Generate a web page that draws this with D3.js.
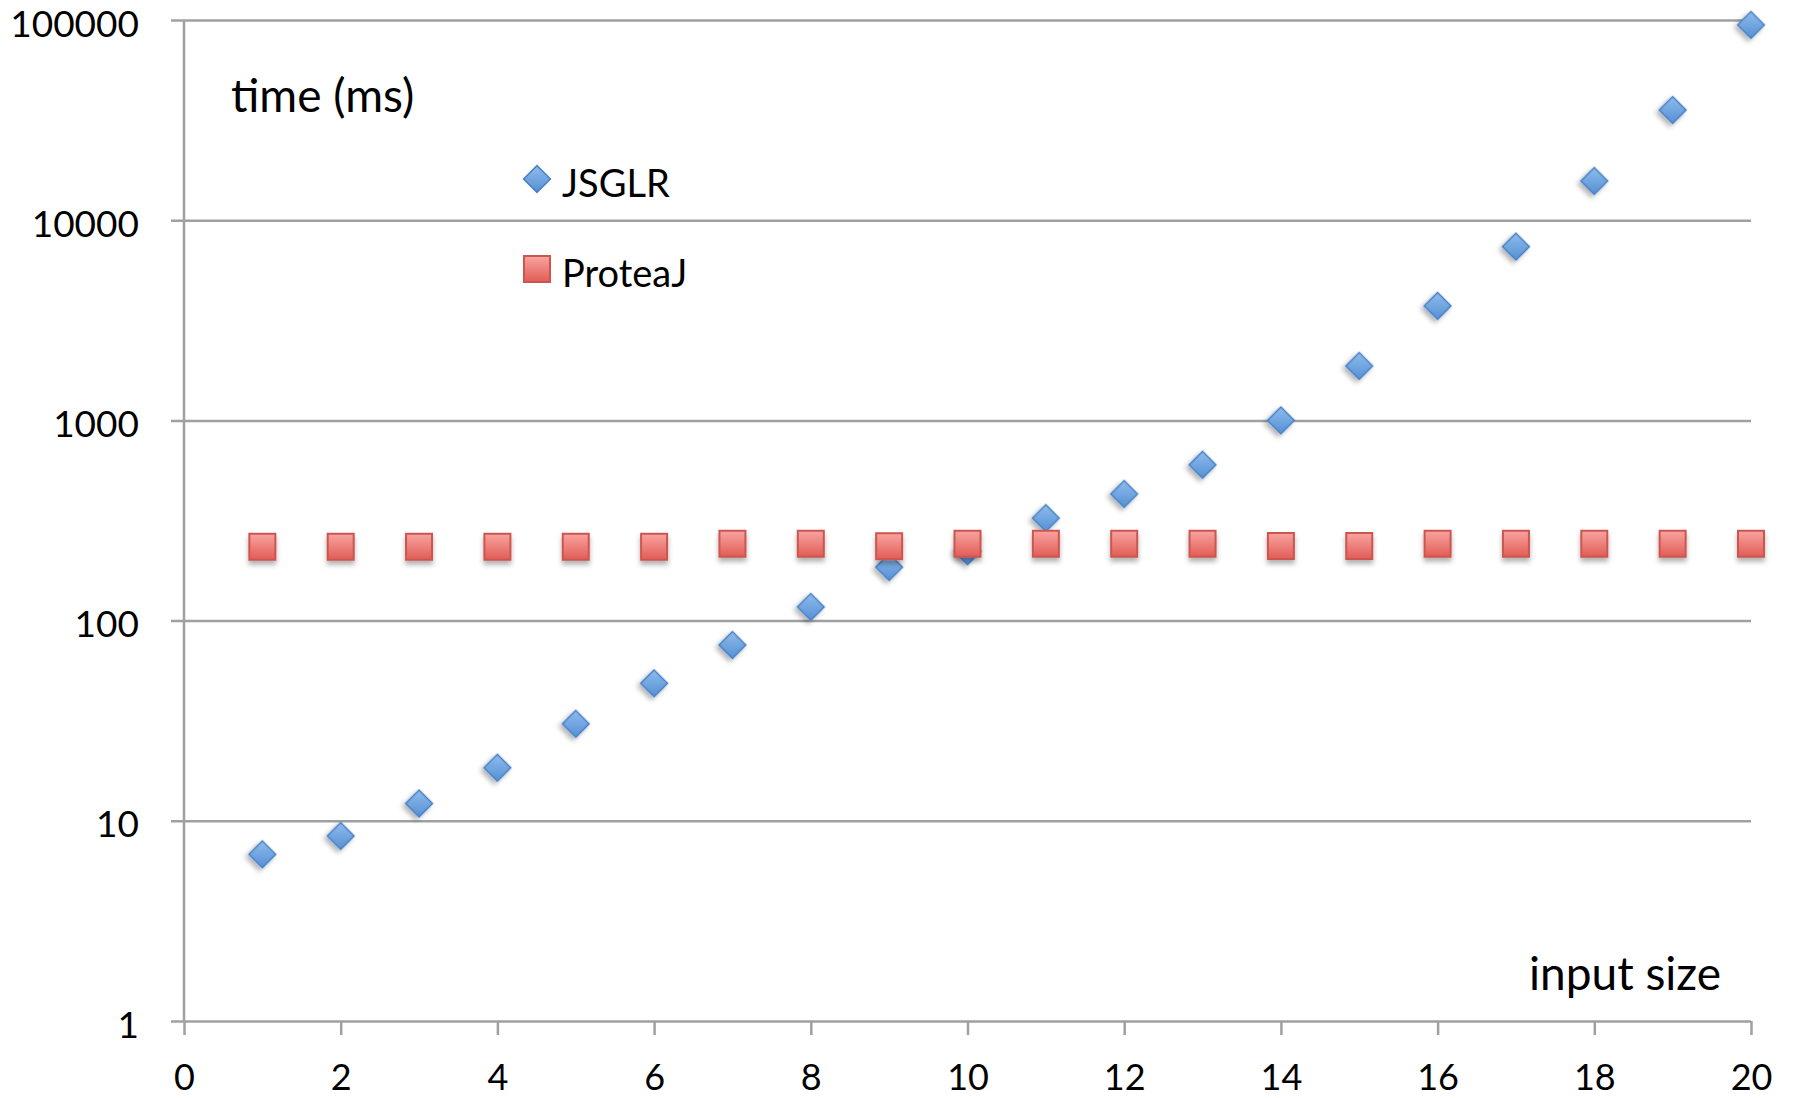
<!DOCTYPE html>
<html>
<head>
<meta charset="utf-8">
<script src="https://cdn.jsdelivr.net/npm/d3@7"></script>
<style>
  body { margin: 0; background: #fff; }
  text { font-family: Lato, "Open Sans", sans-serif; fill: #000; }
</style>
</head>
<body>
<div id="chart"></div>
<script>
// Data
const inputSizes = [1, 2, 3, 4, 5, 6, 7, 8, 9, 10, 11, 12, 13, 14, 15, 16, 17, 18, 19, 20];
const jsglrTimes = [6.8, 8.4, 12.2, 18.4, 30.5, 48.6, 75.5, 117, 185, 222, 325, 429, 600, 1000, 1870, 3730, 7380, 15700, 35500, 94500];
const proteajTimes = [234, 234, 234, 234, 234, 234, 242, 242, 235, 242, 242, 242, 242, 236, 236, 242, 242, 242, 242, 242];
const seriesNames = ['JSGLR', 'ProteaJ'];
const yTicks = [1, 10, 100, 1000, 10000, 100000];
const xTicks = [0, 2, 4, 6, 8, 10, 12, 14, 16, 18, 20];

const width = 1793;
const height = 1098;
const plotLeft = 184, plotRight = 1751, plotTop = 20, plotBottom = 1021;
const gridColor = '#a0a0a0';

const svg = d3.select('#chart')
    .append('svg')
    .attr('width', width)
    .attr('height', height);

const defs = svg.append('defs');

// marker gradients + shadow
const blue = defs.append('linearGradient')
    .attr('id', 'blueGrad')
    .attr('x1', 0).attr('y1', 0).attr('x2', 1).attr('y2', 1);
blue.append('stop').attr('offset', '0%').attr('stop-color', '#8fbcec');
blue.append('stop').attr('offset', '100%').attr('stop-color', '#5590d4');

const red = defs.append('linearGradient')
    .attr('id', 'redGrad')
    .attr('x1', 0).attr('y1', 0).attr('x2', 0).attr('y2', 1);
red.append('stop').attr('offset', '0%').attr('stop-color', '#f8a4a0');
red.append('stop').attr('offset', '100%').attr('stop-color', '#e25c56');

const shadow = defs.append('filter')
    .attr('id', 'shadow')
    .attr('x', '-50%').attr('y', '-50%')
    .attr('width', '200%').attr('height', '200%');
shadow.append('feDropShadow')
    .attr('dx', 0).attr('dy', 4)
    .attr('stdDeviation', 2.5)
    .attr('flood-color', '#000')
    .attr('flood-opacity', 0.3);

const x = d3.scaleLinear().domain([0, 20]).range([plotLeft, plotRight]);
const y = d3.scaleLog().domain([1, 100000]).range([plotBottom, plotTop]);

// y axis with gridlines running across the plot
const yAxis = svg.append('g')
    .attr('transform', `translate(${plotRight},0)`)
    .call(d3.axisLeft(y)
        .tickValues(yTicks)
        .tickFormat(d3.format('d'))
        .tickSize(plotRight - 171)
        .tickPadding(32));
yAxis.select('.domain').remove();
yAxis.selectAll('.tick line')
    .attr('stroke', gridColor)
    .attr('stroke-width', 2.5);
yAxis.selectAll('.tick text')
    .attr('dy', 16)
    .style('font-size', '37px');

// x axis
const xAxis = svg.append('g')
    .attr('transform', `translate(0,${plotBottom})`)
    .call(d3.axisBottom(x)
        .tickValues(xTicks)
        .tickSize(14));
xAxis.select('.domain').remove();
xAxis.selectAll('.tick line')
    .attr('stroke', gridColor)
    .attr('stroke-width', 2.5);
xAxis.selectAll('.tick text')
    .attr('y', 69)
    .attr('dy', 0)
    .style('font-size', '36px');

// vertical axis line
svg.append('line')
    .attr('x1', x(0)).attr('x2', x(0))
    .attr('y1', y(100000)).attr('y2', y(1))
    .attr('stroke', gridColor)
    .attr('stroke-width', 2.5);

const diamond = d3.symbol().type(d3.symbolSquare).size(19 * 19);
const square = d3.symbol().type(d3.symbolSquare).size(26 * 26);

// JSGLR diamonds
svg.append('g')
    .selectAll('path')
    .data(inputSizes.map((d, i) => [d, jsglrTimes[i]]))
    .join('path')
    .attr('d', diamond)
    .attr('transform', d => `translate(${x(d[0])},${y(d[1])}) rotate(45)`)
    .attr('fill', 'url(#blueGrad)')
    .attr('stroke', '#4a80c4')
    .attr('stroke-width', 1.5)
    .attr('filter', 'url(#shadow)');

// ProteaJ squares
svg.append('g')
    .selectAll('path')
    .data(inputSizes.map((d, i) => [d, proteajTimes[i]]))
    .join('path')
    .attr('d', square)
    .attr('transform', d => `translate(${x(d[0])},${y(d[1])})`)
    .attr('fill', 'url(#redGrad)')
    .attr('stroke', '#cc5550')
    .attr('stroke-width', 2)
    .attr('filter', 'url(#shadow)');

// legend
const legend = svg.append('g')
    .selectAll('g')
    .data(seriesNames)
    .join('g')
    .attr('transform', (d, i) => `translate(537,${179 + i * 90})`);

legend.append('path')
    .attr('d', (d, i) => i === 0 ? diamond() : square())
    .attr('transform', (d, i) => i === 0 ? 'rotate(45)' : null)
    .attr('fill', (d, i) => i === 0 ? 'url(#blueGrad)' : 'url(#redGrad)')
    .attr('stroke', (d, i) => i === 0 ? '#4a80c4' : '#cc5550')
    .attr('stroke-width', (d, i) => i === 0 ? 1.5 : 2);

legend.append('text')
    .attr('x', 25)
    .attr('y', 18)
    .style('font-size', '38px')
    .text(d => d);

// axis titles
svg.append('text')
    .attr('x', 231)
    .attr('y', 112)
    .style('font-size', '46px')
    .text('time (ms)');

svg.append('text')
    .attr('x', 1529)
    .attr('y', 990)
    .style('font-size', '46px')
    .text('input size');
</script>
</body>
</html>
